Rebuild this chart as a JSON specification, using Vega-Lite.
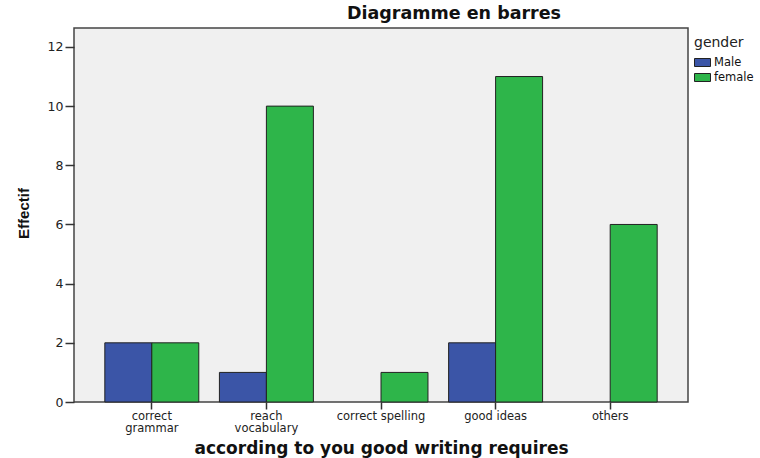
{
  "$schema": "https://vega.github.io/schema/vega-lite/v6.json",
  "width": 614,
  "height": 374,
  "autosize": "none",
  "padding": {"left": 74, "top": 28, "right": 72, "bottom": 56},
  "background": "white",
  "title": {
    "text": "Diagramme en barres",
    "font": "DejaVu Sans",
    "fontSize": 17.5,
    "fontWeight": "bold",
    "color": "#111",
    "anchor": "middle",
    "frame": "group",
    "dx": 73,
    "offset": 6
  },
  "data": {
    "values": [
      {"category": "correct grammar", "gender": "Male", "count": 2},
      {"category": "correct grammar", "gender": "female", "count": 2},
      {"category": "reach vocabulary", "gender": "Male", "count": 1},
      {"category": "reach vocabulary", "gender": "female", "count": 10},
      {"category": "correct spelling", "gender": "female", "count": 1},
      {"category": "good ideas", "gender": "Male", "count": 2},
      {"category": "good ideas", "gender": "female", "count": 11},
      {"category": "others", "gender": "female", "count": 6}
    ]
  },
  "mark": {"type": "bar", "stroke": "#222", "strokeWidth": 1},
  "encoding": {
    "x": {
      "field": "category",
      "type": "nominal",
      "sort": ["correct grammar", "reach vocabulary", "correct spelling", "good ideas", "others"],
      "scale": {"paddingInner": 0.18, "paddingOuter": 0.269},
      "axis": {
        "title": "according to you good writing requires",
        "titleFont": "DejaVu Sans",
        "titleFontSize": 17,
        "titleFontWeight": "bold",
        "titleColor": "#111",
        "titleY": 51,
        "titleBaseline": "alphabetic",
        "labelAngle": 0,
        "labelFont": "DejaVu Sans",
        "labelFontSize": 11.5,
        "labelColor": "#222",
        "labelLineHeight": 12.5,
        "labelPadding": 1,
        "labelExpr": "datum.label == 'correct grammar' ? ['correct', 'grammar'] : datum.label == 'reach vocabulary' ? ['reach', 'vocabulary'] : datum.label",
        "domain": false,
        "tickColor": "#333",
        "tickSize": 7,
        "tickWidth": 1.5
      }
    },
    "xOffset": {
      "field": "gender",
      "type": "nominal",
      "sort": ["Male", "female"],
      "scale": {"domain": ["Male", "female"], "paddingInner": 0, "paddingOuter": 0}
    },
    "y": {
      "field": "count",
      "type": "quantitative",
      "scale": {"domain": [0, 12.64], "nice": false, "zero": true},
      "axis": {
        "title": "Effectif",
        "titleFont": "Liberation Sans",
        "titleFontSize": 15,
        "titleFontWeight": "bold",
        "titleColor": "#111",
        "titleX": -46,
        "titleY": 185,
        "titleBaseline": "alphabetic",
        "titleAngle": -90,
        "values": [0, 2, 4, 6, 8, 10, 12],
        "grid": false,
        "domain": false,
        "tickColor": "#333",
        "tickSize": 9,
        "tickWidth": 1.5,
        "labelFont": "DejaVu Sans",
        "labelFontSize": 12.5,
        "labelColor": "#222",
        "labelPadding": 2
      }
    },
    "color": {
      "field": "gender",
      "type": "nominal",
      "sort": ["Male", "female"],
      "scale": {"domain": ["Male", "female"], "range": ["#3b55a7", "#2eb54a"]},
      "legend": {
        "title": "gender",
        "orient": "none",
        "legendX": 620,
        "legendY": 8,
        "titleFont": "DejaVu Sans",
        "titleFontSize": 14,
        "titleFontWeight": "normal",
        "titleColor": "#222",
        "titlePadding": 4,
        "labelFont": "DejaVu Sans",
        "labelFontSize": 11.5,
        "labelColor": "#111",
        "labelOffset": 3,
        "rowPadding": 0,
        "symbolType": "M-1,-0.5H1V0.5H-1Z",
        "symbolSize": 256,
        "symbolStrokeColor": "#222",
        "symbolStrokeWidth": 1,
        "symbolOpacity": 1
      }
    }
  },
  "config": {
    "view": {"fill": "#f0f0f0", "stroke": "#444", "strokeWidth": 1.5}
  }
}
